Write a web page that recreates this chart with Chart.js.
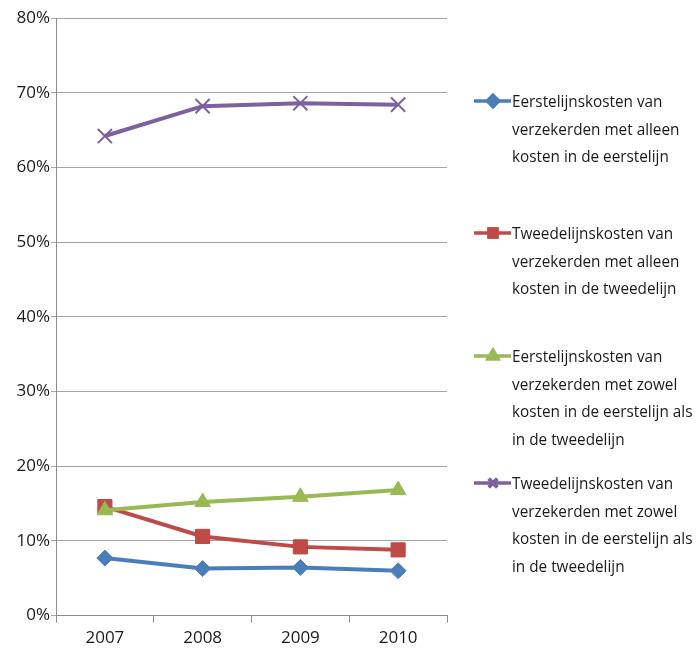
<!DOCTYPE html>
<html>
<head>
<meta charset="utf-8">
<script src="https://cdn.jsdelivr.net/npm/chart.js@4.4.1/dist/chart.umd.min.js"></script>
<style>
html,body{margin:0;padding:0;background:#fff;}
#wrap{position:relative;width:697px;height:655px;}
#legend{position:absolute;left:474px;top:0;font-family:"Open Sans",sans-serif;font-size:17px;color:#1a1a1a;}
.item{position:absolute;left:0;width:230px;}
.item .txt{position:absolute;left:38px;top:0;line-height:27.6px;white-space:nowrap;transform:scaleX(0.9);transform-origin:0 0;}
.item canvas{position:absolute;left:0;top:3px;}
</style>
</head>
<body>
<div id="wrap">
<canvas id="c" width="697" height="655"></canvas>
<div id="legend"></div>
</div>
<script>
const categories = ["2007","2008","2009","2010"];
const seriesNames = [
  ["Eerstelijnskosten van","verzekerden  met alleen","kosten in de eerstelijn"],
  ["Tweedelijnskosten  van","verzekerden  met alleen","kosten in de tweedelijn"],
  ["Eerstelijnskosten  van","verzekerden met zowel","kosten in de eerstelijn als","in de tweedelijn"],
  ["Tweedelijnskosten van","verzekerden met zowel","kosten in de eerstelijn als","in de tweedelijn"]
];
const eersteAlleen = [7.7, 6.3, 6.45, 6.0];
const tweedeAlleen = [14.6, 10.6, 9.2, 8.8];
const eersteZowel = [14.1, 15.2, 15.9, 16.8];
const tweedeZowel = [64.2, 68.2, 68.6, 68.4];
const yTicks = [0,10,20,30,40,50,60,70,80];

const colors = ["#4A7EBB","#BE4B48","#98B954","#7D60A0"];
const styles = ["rectRot","rect","triangle","crossRot"];
const radii = [8,10,9,10];
const allData = [eersteAlleen, tweedeAlleen, eersteZowel, tweedeZowel];
const fontFam = '"Open Sans",sans-serif';

const datasets = allData.map((d,i)=>({
  label: seriesNames[i].join(" "),
  data: d,
  borderColor: colors[i],
  backgroundColor: colors[i],
  pointBackgroundColor: colors[i],
  pointBorderColor: colors[i],
  pointStyle: styles[i],
  pointRadius: radii[i],
  pointBorderWidth: i===3 ? 2 : 1,
  borderWidth: 4,
  tension: 0,
  order: 4-i
}));

new Chart(document.getElementById('c'), {
  type: 'line',
  data: { labels: categories, datasets },
  options: {
    responsive: false,
    animation: false,
    layout: { padding: { top: 18, right: 250, bottom: 2, left: 0 } },
    plugins: { legend: { display: false }, tooltip: { enabled: false } },
    scales: {
      x: {
        offset: true,
        grid: { offset: true, drawOnChartArea: false, color: '#8c8c8c', tickLength: 7, lineWidth: 1 },
        border: { color: '#8c8c8c', width: 1 },
        ticks: { color: '#1a1a1a', font: { family: fontFam, size: 17 }, padding: 5 }
      },
      y: {
        min: 0, max: 80,
        afterBuildTicks: (ax) => { ax.ticks = yTicks.map(v=>({value:v})); },
        afterFit: (ax) => { ax.width = 56; },
        grid: { color: '#a6a6a6', tickLength: 5, lineWidth: 1 },
        border: { color: '#8c8c8c', width: 1 },
        ticks: { color: '#1a1a1a', font: { family: fontFam, size: 17 }, padding: 1, callback: v => v + '%' }
      }
    }
  }
});

// HTML legend with multi-line labels
const legendTops = [87, 219, 342, 469];
const leg = document.getElementById('legend');
seriesNames.forEach((lines, i) => {
  const it = document.createElement('div');
  it.className = 'item';
  it.style.top = legendTops[i] + 'px';
  const cv = document.createElement('canvas');
  cv.width = 38; cv.height = 22;
  const ctx = cv.getContext('2d');
  ctx.strokeStyle = colors[i]; ctx.fillStyle = colors[i]; ctx.lineWidth = 3.5;
  ctx.beginPath(); ctx.moveTo(0,11); ctx.lineTo(37,11); ctx.stroke();
  Chart.helpers.drawPoint(ctx, { pointStyle: styles[i], radius: i===3?6:5.5, rotation: 0, borderWidth: i===3?1.5:1 }, 19, 11);
  if (i !== 3) { ctx.fill(); }
  ctx.stroke();
  it.appendChild(cv);
  const tx = document.createElement('div');
  tx.className = 'txt';
  tx.innerHTML = lines.join('<br>');
  it.appendChild(tx);
  leg.appendChild(it);
});
</script>
</body>
</html>
